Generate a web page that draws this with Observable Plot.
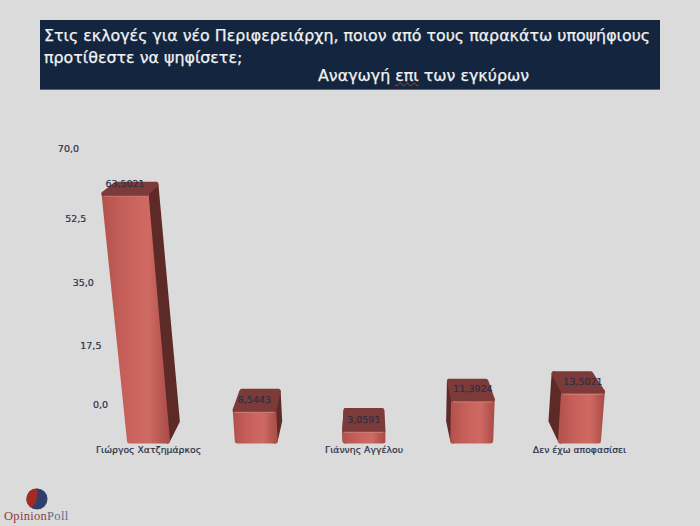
<!DOCTYPE html>
<html lang="el">
<head>
<meta charset="utf-8">
<script src="https://cdn.jsdelivr.net/npm/d3@7"></script>
<script src="https://cdn.jsdelivr.net/npm/@observablehq/plot@0.6"></script>
<style>
html,body{margin:0;padding:0;background:#dbdbdb;width:700px;height:526px;overflow:hidden;position:relative}
#head{position:absolute;left:40px;top:20px;width:620px;height:70px;box-sizing:border-box;background:#14263f;color:#f2f2f2;
 font:15.85px/18px "DejaVu Sans",sans-serif;-webkit-text-stroke:.25px #f2f2f2;white-space:nowrap;border-bottom:1px solid #5a6678}
#head div{position:absolute}
#head u{text-decoration:underline wavy #c0392b 1px}
#chart{position:absolute;left:0;top:0}
#logo{position:absolute;left:0;top:486px;width:72px;height:40px;text-align:left}
#logo svg{position:absolute;left:26px;top:2px}
#logo span{position:absolute;left:4px;top:23px;font:12.5px "Liberation Serif",serif;color:#5c6a88;white-space:nowrap;letter-spacing:.3px}
#logo b{font-weight:normal;color:#8f3d38}
</style>
</head>
<body>
<div id="chart"></div>
<div id="head"><div style="left:4px;top:7px">Στις εκλογές για νέο Περιφερειάρχη, ποιον από τους παρακάτω υποψήφιους</div><div style="left:4px;top:29px">προτίθεστε να ψηφίσετε;</div><div style="left:278px;top:47px">Αναγωγή <u>επι</u> των εγκύρων</div></div>
<div id="logo"><svg width="22" height="22" viewBox="0 0 22 22"><circle cx="11" cy="11" r="10.5" fill="#2f3f6b"/><path d="M11 .5A10.5 10.5 0 0 0 5 19.6C10 17 12 10 11 .5Z" fill="#a52a25"/></svg><span><b>Opinion</b>Poll</span></div>
<script>
// Data. Bars 2 and 4 carry no readable name in the reference.
const categories = ["Γιώργος Χατζημάρκος", "", "Γιάννης Αγγέλου", "", "Δεν έχω αποφασίσει"];
const values = [63.5021, 8.5443, 3.0591, 11.3924, 13.5021];
const valueLabels = ["63,5021", "8,5443", "3,0591", "11,3924", "13,5021"];
const axisTicks = [0, 17.5, 35, 52.5, 70];
const axisLabels = ["0,0", "17,5", "35,0", "52,5", "70,0"];

// Perspective of the 3D box, in scale units
const rise = v => v * (0.973 + 0.00125 * v);
const leanAt = (i, v) => 0.00146 * (i - 2.35) * v;
const depthX = i => -0.05 * (i - 2.03);
const depthTop = v => 5.4 - 0.045 * v;
const depthGround = 5.4;
const frontHalf = v => 0.176 + 0.0003 * v;
const backHalf = v => 0.166 + 0.0003 * v;
const wallX = d3.scaleLinear().domain(axisTicks).range([-0.445, -0.535, -0.605, -0.675, -0.743]);
const wallY = d3.scaleLinear().domain(axisTicks).range([9.87, 25.8, 42.6, 60.1, 79]);

const F = (i, v, s) => ({x: i + leanAt(i, v) + s * frontHalf(v), y: rise(v)});
const B = (i, v, s) => ({x: i + leanAt(i, v) + depthX(i) + s * backHalf(v), y: rise(v) + (v === 0 ? depthGround : depthTop(v))});
const poly = (i, pts) => [...pts, pts[0]].map(p => ({...p, bar: i}));

const fronts = [], tops = [], sides = [], rims = [];
values.forEach((v, i) => {
  const s = i < 2 ? 1 : -1;
  fronts.push(...poly(i, [F(i, v, -1), F(i, v, 1), F(i, 0, 1), F(i, 0, -1)]));
  tops.push(...poly(i, [F(i, v, -1), F(i, v, 1), B(i, v, 1), B(i, v, -1)]));
  sides.push(...poly(i, [F(i, v, s), B(i, v, s), B(i, 0, s), F(i, 0, s)]));
  rims.push({...F(i, v, -1), bar: i}, {...F(i, v, 1), bar: i});
});

const defs = () => {
  const g = d3.create("svg:g");
  const lg = g.append("defs").append("linearGradient").attr("id", "face");
  [[0, "#b4534e"], [0.3, "#c65f59"], [0.7, "#cf6a63"], [1, "#ad4f4a"]]
    .forEach(([o, c]) => lg.append("stop").attr("offset", o).attr("stop-color", c));
  return g.node();
};

const faceOpts = {x: "x", y: "y", z: "bar", strokeWidth: 5, strokeLinejoin: "round"};
const txt = {fontFamily: "DejaVu Sans, sans-serif", fontSize: 9.5, fill: "#2a2f45", stroke: "#2a2f45", strokeWidth: 0.2};

const plot = Plot.plot({
  width: 700, height: 526, margin: 0,
  style: {background: "transparent", overflow: "visible"},
  x: {domain: [0, 4], range: [148, 579], axis: null},
  y: {domain: [0, 100], range: [440.5, 70.5], axis: null},
  marks: [
    defs,
    Plot.line(sides, {...faceOpts, fill: "#5e2a28", stroke: "#5e2a28"}),
    Plot.line(fronts, {...faceOpts, fill: "url(#face)", stroke: "url(#face)"}),
    Plot.line(tops, {...faceOpts, fill: "#7c3b38", stroke: "#7c3b38"}),
    Plot.line(rims, {x: "x", y: "y", z: "bar", stroke: "#d98b84", strokeOpacity: 0.7, strokeWidth: 1.2, dy: 2.5}),
    Plot.text(axisTicks, {x: wallX, y: wallY, text: (d, i) => axisLabels[i], ...txt}),
    Plot.text(values, {x: (v, i) => i + leanAt(i, v), y: rise, text: (d, i) => valueLabels[i], dy: -10, ...txt}),
    Plot.text(categories, {x: (d, i) => i, y: () => 0, text: d => d, dy: 9.5, ...txt, fontSize: 9.3})
  ]
});
document.getElementById("chart").append(plot);
</script>
</body>
</html>
